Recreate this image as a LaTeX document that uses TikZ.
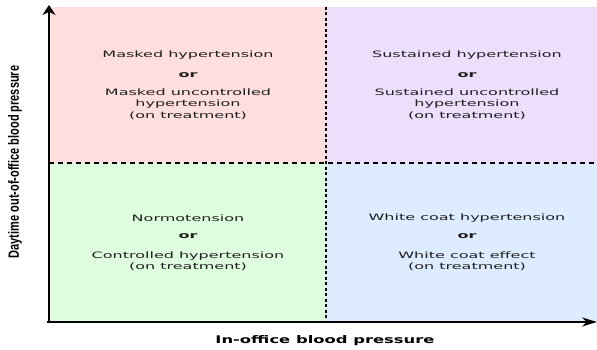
\documentclass[tikz,border=0pt]{standalone}
\usepackage{fontspec}
\setmainfont{DejaVu Sans}
\newfontfamily\axisfont{Liberation Sans}
\usetikzlibrary{arrows.meta}
\definecolor{maskedpink}{RGB}{255,222,222}
\definecolor{sustainedlilac}{RGB}{237,222,252}
\definecolor{normogreen}{RGB}{222,252,222}
\definecolor{whitecoatblue}{RGB}{222,236,255}

\begin{document}
\begin{tikzpicture}[x=1pt,y=1pt,
	quadtext/.style={xscale=1.82,align=center,text=black!88,font=\fontsize{8.8}{11.5}\selectfont},
	ortext/.style={quadtext,font=\fontsize{8.8}{11.5}\selectfont\bfseries},
	axistext/.style={inner sep=0pt,text=black}]
	\useasboundingbox (0,0) rectangle (597,349);
	% quadrants
	\fill[maskedpink] (49,186) rectangle (326,342);
	\fill[sustainedlilac] (326,186) rectangle (597,342);
	\fill[normogreen] (49,27) rectangle (326,186);
	\fill[whitecoatblue] (326,27) rectangle (597,186);
	\draw[line width=1.6pt,dash pattern=on 5pt off 4pt] (49,186)--(597,186);
	\draw[line width=2.4pt,dash pattern=on 3pt off 2.5pt] (326,342)--(326,27);
	% axes
	\draw[line width=1.8pt,-{Stealth[length=15pt,width=9pt]}] (47,27)--(597,27);
	\draw[line width=2.5pt,-{Stealth[length=10pt,width=13pt]}] (49,26)--(49,344);
	\node[axistext,xscale=1.56] (xlabel) at (325,8) {\fontsize{10.5}{12}\selectfont\bfseries In-office blood pressure};
	\node[axistext,xscale=1.35,rotate=90] (ylabel) at (15,187) {\axisfont\fontsize{11}{13}\selectfont\bfseries Daytime out-of-office blood pressure};
	% top left
	\node[quadtext] (masked) at (188,294) {Masked hypertension};
	\node[ortext] (maskedor) at (188,274) {or};
	\node[quadtext] (maskedtx) at (188,245) {Masked uncontrolled\\hypertension\\(on treatment)};
	% top right
	\node[quadtext] (sustained) at (467,294) {Sustained hypertension};
	\node[ortext] (sustainedor) at (467,274) {or};
	\node[quadtext] (sustainedtx) at (467,245) {Sustained uncontrolled\\hypertension\\(on treatment)};
	% bottom left
	\node[quadtext] (normo) at (188,131) {Normotension};
	\node[ortext] (normoor) at (188,113) {or};
	\node[quadtext] (normotx) at (188,88) {Controlled hypertension\\(on treatment)};
	% bottom right
	\node[quadtext] (whitecoat) at (467,131) {White coat hypertension};
	\node[ortext] (whitecoator) at (467,113) {or};
	\node[quadtext] (whitecoattx) at (467,88) {White coat effect\\(on treatment)};
\end{tikzpicture}
\end{document}
